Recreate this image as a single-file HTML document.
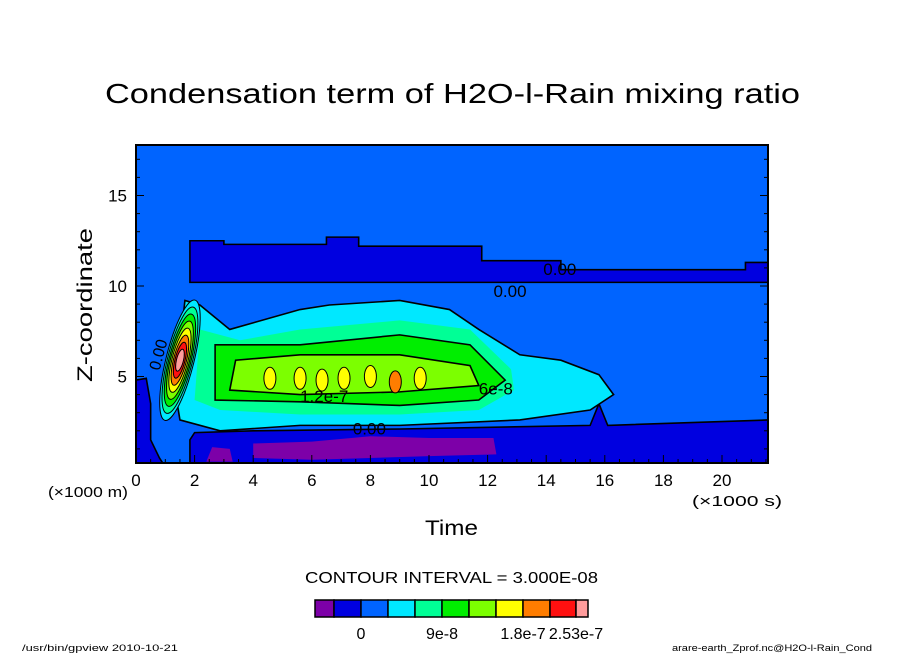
<!DOCTYPE html>
<html><head><meta charset="utf-8"><style>
body{margin:0;background:#fff;}
svg text{font-family:"Liberation Sans",sans-serif;}
</style></head><body>
<svg width="904" height="654" xmlns="http://www.w3.org/2000/svg">
<text x="105" y="103" font-size="28" textLength="695" lengthAdjust="spacingAndGlyphs">Condensation term of H2O-l-Rain mixing ratio</text>
<defs><clipPath id="pc"><rect x="136" y="145" width="632" height="318"/></clipPath></defs>
<g id="plot" clip-path="url(#pc)"></g>
<rect x="136" y="145" width="632" height="318" fill="none" stroke="#000" stroke-width="2"/>
<g id="axes"></g>
<text x="0" y="0" font-size="21" textLength="154" lengthAdjust="spacingAndGlyphs" transform="translate(92 382) rotate(-90)">Z-coordinate</text>
<text x="48" y="497" font-size="15" textLength="80" lengthAdjust="spacingAndGlyphs">(×1000 m)</text>
<text x="425" y="535" font-size="21" textLength="53" lengthAdjust="spacingAndGlyphs">Time</text>
<text x="692" y="506" font-size="15" textLength="90" lengthAdjust="spacingAndGlyphs">(×1000 s)</text>
<text x="305" y="583" font-size="16" textLength="293" lengthAdjust="spacingAndGlyphs">CONTOUR INTERVAL = 3.000E-08</text>
<g id="legend"></g>
<text x="22" y="651" font-size="9" textLength="156" lengthAdjust="spacingAndGlyphs">/usr/bin/gpview  2010-10-21</text>
<text x="672" y="651" font-size="9" textLength="200" lengthAdjust="spacingAndGlyphs">arare-earth_Zprof.nc@H2O-l-Rain_Cond</text>
</svg>
<script>
const xTicks=[0,2,4,6,8,10,12,14,16,18,20];
const yTicks=[5,10,15];
const levelColors=["#7d00a8","#0000e0","#0064ff","#00e8ff","#00ff96","#00ee00","#7cff00","#ffff00","#ff7d00","#ff1010","#ff9c9c"];
const legendLabels=[["0",2],["9e-8",5],["1.8e-7",8],["2.53e-7",10]];
const upperBand=[[1.84,10.2],[21.6,10.2],[21.6,11.3],[20.8,11.3],[20.8,10.9],[14.5,10.9],[14.5,11.4],[11.8,11.4],[11.8,12.2],[7.6,12.2],[7.6,12.7],[6.5,12.7],[6.5,12.3],[3,12.3],[3,12.5],[1.84,12.5]];
const lowerBand=[[1.84,0],[21.6,0],[21.6,2.6],[16.1,2.3],[15.8,3.5],[15.5,2.3],[9,2.1],[4,2.0],[2.0,1.9],[1.84,1.5]];
const leftDark=[[0,0],[0,4.8],[0.35,4.9],[0.5,3.5],[0.5,1.5],[0.8,0.5],[1.0,0]];
const purple1=[[2.4,0.3],[2.6,1.1],[3.2,1.0],[3.3,0.3]];
const purple2=[[4.0,0.5],[4.0,1.3],[6,1.4],[8,1.7],[10,1.6],[12.2,1.6],[12.3,0.7],[10,0.6],[8,0.5],[6,0.4]];
const cyanReg=[[1.33,4.25],[1.67,9.2],[2.18,8.95],[3.2,7.6],[5.6,8.7],[6.6,8.95],[9.0,9.2],[10.7,8.7],[11.7,7.6],[13.1,6.2],[14.5,5.9],[15.8,5.1],[16.3,4.0],[15.5,3.15],[13.1,2.6],[9.0,2.3],[5.6,2.3],[2.87,2.0],[1.5,2.6]];
const tealReg=[[2.0,3.7],[2.18,7.6],[3.55,7.0],[5.6,7.6],[9.0,8.1],[11.4,7.6],[12.8,5.4],[12.9,4.25],[11.7,3.15],[9.0,2.9],[5.6,2.9],[2.87,3.15]];
const greenReg=[[2.7,3.7],[2.7,6.75],[5.6,6.75],[9.0,7.3],[11.4,6.75],[12.6,4.8],[11.7,3.7],[9.0,3.4],[5.6,3.6]];
const ygReg=[[3.2,4.25],[3.4,5.9],[5.6,6.2],[9.0,6.2],[11.4,5.6],[11.7,4.5],[9.0,4.15],[5.6,4.0]];
const yellowT=[4.57,5.6,6.35,7.1,8.0,8.85,9.7];
const yellowZ=[4.9,4.9,4.8,4.9,5.0,4.7,4.9];
const spikeT=1.5, spikeZ=5.9;
const spikeLevels=[3,4,5,6,7,8,9,10];

const sx=t=>136+t*29.3, sy=z=>467-z*18.1;
const NS="http://www.w3.org/2000/svg";
const plot=document.getElementById('plot');
function mk(tag,at,parent){const e=document.createElementNS(NS,tag);for(const k in at)e.setAttribute(k,at[k]);parent.appendChild(e);return e;}
const bg=mk('rect',{x:136,y:145,width:632,height:318,fill:levelColors[2]},plot);


function poly(pts,lvl,name,line){
  const p=mk('polygon',{points:pts.map(q=>sx(q[0])+','+sy(q[1])).join(' '),fill:levelColors[lvl],stroke:line?'#000':'none','stroke-width':line?1.6:0},plot);
  
  
}
poly(upperBand,1,'upper-band',true);
poly(lowerBand,1,'lower-band',true);
poly(leftDark,1,'left-band',true);
poly(purple1,0,'purple-region',false);
poly(purple2,0,'purple-region',false);
poly(cyanReg,3,'cyan-region',true);
poly(tealReg,4,'teal-region',false);
poly(greenReg,5,'green-region',true);
poly(ygReg,6,'yellowgreen-region',true);
yellowT.forEach((t,i)=>{
  const e=mk('ellipse',{cx:sx(t),cy:sy(yellowZ[i]),rx:6,ry:11,fill:levelColors[i==5?8:7],stroke:'#000','stroke-width':1},plot);
  
  
});
spikeLevels.forEach((l,i)=>{
  const n=spikeLevels.length;
  const e=mk('ellipse',{cx:sx(spikeT),cy:sy(spikeZ),rx:12*(n-i)/n+2,ry:58*(n-i)/n+4,fill:levelColors[l],stroke:'#000','stroke-width':1,transform:`rotate(14 ${sx(spikeT)} ${sy(spikeZ)})`},plot);
  
  
});
const labs=[[13.9,10.6,'0.00'],[12.2,9.4,'0.00'],[7.4,1.8,'0.00'],[5.6,3.6,'1.2e-7'],[11.7,4.0,'6e-8']];
labs.forEach(l=>{const t=mk('text',{x:sx(l[0]),y:sy(l[1]),'font-size':17},plot);t.textContent=l[2];
  
  });
const lt=mk('text',{x:0,y:0,'font-size':16,transform:`translate(${sx(0.8)},${sy(5.3)}) rotate(-75)`},plot);lt.textContent='0.00';

const ax=document.getElementById('axes');
for(let t=0;t<=21.5;t+=0.5){const big=xTicks.includes(t);const l=mk('line',{x1:sx(t),x2:sx(t),y1:463,y2:463-(big?8:4),stroke:'#000','stroke-width':1},ax);
  }
xTicks.forEach(t=>{const e=mk('text',{x:sx(t),y:486,'font-size':17,'text-anchor':'middle'},ax);e.textContent=t;
  });
for(let z=1;z<=17;z+=1){const big=yTicks.includes(z);const l=mk('line',{x1:136,x2:136+(big?8:4),y1:sy(z),y2:sy(z),stroke:'#000'},ax);
  
  const r=mk('line',{x1:768,x2:768-(big?8:4),y1:sy(z),y2:sy(z),stroke:'#000'},ax);}
yTicks.forEach(z=>{const e=mk('text',{x:127,y:sy(z)+6,'font-size':17,'text-anchor':'end'},ax);e.textContent=z;
  });

const lg=document.getElementById('legend');
const lx=[315,334,361,388,415,442,469,496,523,550,576,588];
levelColors.forEach((c,i)=>{const r=mk('rect',{x:lx[i],y:600,width:lx[i+1]-lx[i],height:17,fill:c,stroke:'#000','stroke-width':1.5},lg);
  });
legendLabels.forEach(l=>{const e=mk('text',{x:lx[l[1]],y:639,'font-size':16,'text-anchor':'middle'},lg);e.textContent=l[0];
  });
</script>
</body></html>
